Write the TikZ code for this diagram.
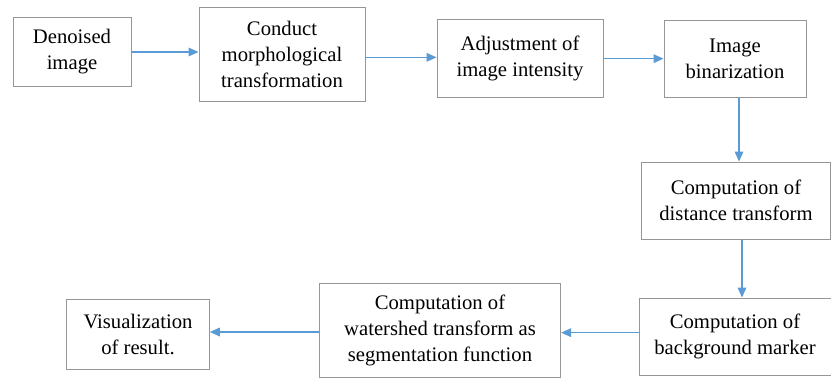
\documentclass[tikz,border=0pt]{standalone}
\usepackage{fontspec}
\setmainfont{LiberationSerif}[Extension=.ttf, UprightFont=*-Regular, BoldFont=*-Bold]
\usetikzlibrary{arrows.meta, positioning}
\definecolor{flowblue}{RGB}{91,155,213}
\definecolor{boxgray}{RGB}{150,150,150}

\begin{document}
\begin{tikzpicture}[>={Triangle[length=7.5pt,width=6.5pt]}, node distance=1in, on grid,
	box/.style={draw=boxgray, line width=0.7pt, align=center, inner sep=2pt,
		font=\rmfamily\fontsize{15.5}{19.5}\selectfont},
	flow/.style={->, color=flowblue, line width=0.9pt}]
			\useasboundingbox (-54pt,39pt) rectangle (569.25pt,-244.5pt);
			\node[box, minimum width=88.5pt, minimum height=52pt] (den) {Denoised\\image};
			\node[box, minimum width=124.5pt, minimum height=70.5pt] (mor) [right=157.5pt of den, yshift=-2pt] {Conduct\\morphological\\transformation};
			\node[box, minimum width=124.5pt, minimum height=58.5pt] (adj) [right=178.5pt of mor, yshift=-3pt] {Adjustment of\\image intensity};
			\node[box, minimum width=106.5pt, minimum height=58pt] (bin) [right=161.25pt of adj] {Image\\binarization};
			\node[box, minimum width=142pt, minimum height=58pt] (dist) [below=106.5pt of bin, xshift=0.75pt] {Computation of\\distance transform};
			\node[box, minimum width=144pt, minimum height=58pt] (bgm) [below=102pt of dist, xshift=-0.75pt] {Computation of\\background marker};
			\node[box, minimum width=181pt, minimum height=70.5pt] (wat) [left=221.25pt of bgm, yshift=4.5pt] {Computation of\\watershed transform as\\segmentation function};
			\node[box, minimum width=107pt, minimum height=52.5pt] (vis) [left=226.5pt of wat, yshift=-3pt] {Visualization\\of result.};
			% connectors
			\draw[flow] (den.east) -- (den.east -| mor.west);
			\draw[flow] ([yshift=-2pt]mor.east) -- ([yshift=-2pt]mor.east -| adj.west);
			\draw[flow] (adj.east) -- (adj.east -| bin.west);
			\draw[flow] ([xshift=3pt]bin.south) -- ([xshift=3pt]bin.south |- dist.north);
			\draw[flow] ([xshift=4.5pt]dist.south) -- ([xshift=4.5pt]dist.south |- bgm.north);
			\draw[flow] ([yshift=3pt]bgm.west) -- ([yshift=3pt]bgm.west -| wat.east);
			\draw[flow] ([yshift=-1pt]wat.west) -- ([yshift=-1pt]wat.west -| vis.east);
		\end{tikzpicture}
\end{document}
